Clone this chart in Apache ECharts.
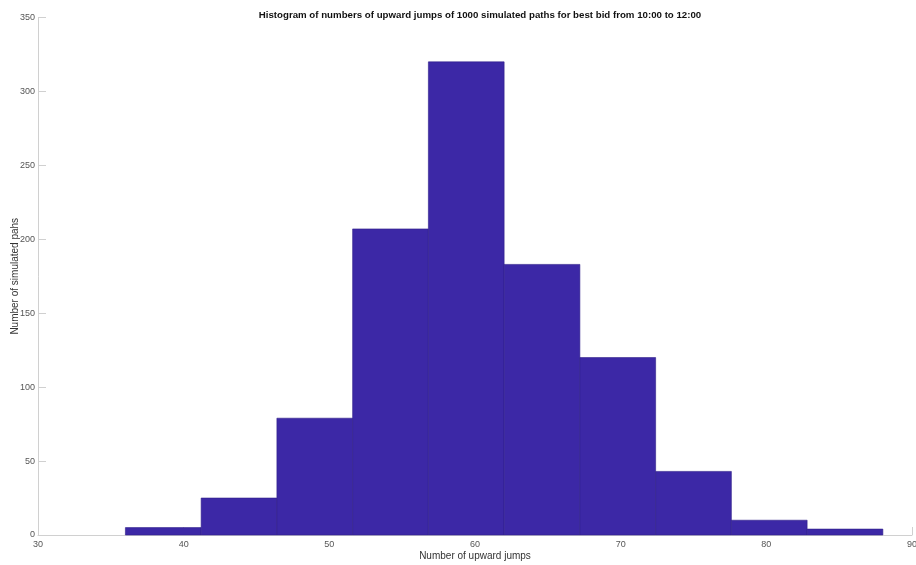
<!DOCTYPE html>
<html>
<head>
<meta charset="utf-8">
<script src="https://cdn.jsdelivr.net/npm/echarts@6/dist/echarts.min.js"></script>
<style>
  html, body { margin: 0; padding: 0; background: #fff; }
  #chart { width: 916px; height: 565px; }
</style>
</head>
<body>
<div id="chart"></div>
<script>
// Histogram bin edges (upward jumps) and path counts per bin
const binEdges = [36, 41.2, 46.4, 51.6, 56.8, 62, 67.2, 72.4, 77.6, 82.8, 88];
const counts = [5, 25, 79, 207, 320, 183, 120, 43, 10, 4];
const xTicks = [30, 40, 50, 60, 70, 80, 90];
const yTicks = [0, 50, 100, 150, 200, 250, 300, 350];

const bins = counts.map((c, i) => [binEdges[i], binEdges[i + 1], c]);

const chart = echarts.init(document.getElementById('chart'), null, { renderer: 'canvas' });

const font = 'Liberation Sans, Arial, Helvetica, sans-serif';
const axisGray = '#d0d0d0';
const labelGray = '#555';

chart.setOption({
  animation: false,
  title: {
    text: 'Histogram of numbers of upward jumps of 1000 simulated paths for best bid from 10:00 to 12:00',
    left: 475,
    textAlign: 'center',
    top: 5,
    textStyle: { fontFamily: font, fontSize: 9.7, fontWeight: 'bold', color: '#111' }
  },
  grid: { left: 38, right: 4, top: 17.5, bottom: 30, containLabel: false, outerBoundsMode: 'none' },
  xAxis: {
    type: 'value',
    min: xTicks[0],
    max: xTicks[xTicks.length - 1],
    interval: 10,
    name: 'Number of upward jumps',
    nameLocation: 'middle',
    nameGap: 16,
    nameMoveOverlap: false,
    nameTextStyle: { fontFamily: font, fontSize: 10, color: '#333' },
    axisLine: { lineStyle: { color: axisGray, width: 1 } },
    axisTick: { inside: true, length: 8, lineStyle: { color: axisGray } },
    axisLabel: { fontFamily: font, fontSize: 9, color: labelGray, margin: 5 },
    splitLine: { show: false }
  },
  yAxis: {
    type: 'value',
    min: yTicks[0],
    max: yTicks[yTicks.length - 1],
    interval: 50,
    name: 'Number of simulated pahs',
    nameLocation: 'middle',
    nameGap: 17.5,
    nameMoveOverlap: false,
    nameTextStyle: { fontFamily: font, fontSize: 10, color: '#333' },
    axisLine: { show: true, lineStyle: { color: axisGray, width: 1 } },
    axisTick: { show: true, inside: true, length: 8, lineStyle: { color: axisGray } },
    axisLabel: { fontFamily: font, fontSize: 9, color: labelGray, margin: 3 },
    splitLine: { show: false }
  },
  series: [{
    type: 'custom',
    data: bins,
    encode: { x: [0, 1], y: 2 },
    renderItem: function (params, api) {
      const p0 = api.coord([api.value(0), 0]);
      const p1 = api.coord([api.value(1), api.value(2)]);
      return {
        type: 'rect',
        shape: { x: p0[0], y: p1[1], width: p1[0] - p0[0], height: p0[1] - p1[1] },
        style: { fill: '#3c28a6', stroke: '#2f1f8a', lineWidth: 0.6 }
      };
    }
  }]
});
</script>
</body>
</html>
